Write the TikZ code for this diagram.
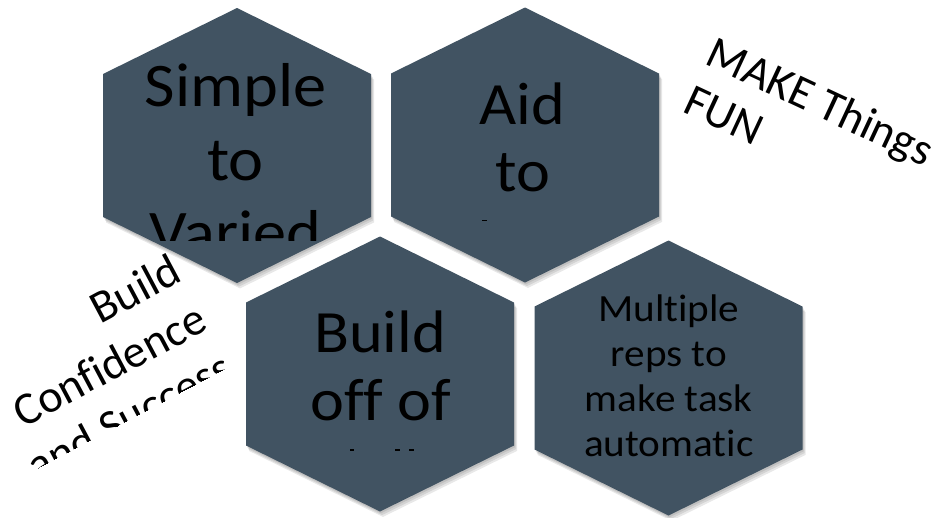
\documentclass[tikz,border=0pt]{standalone}
\usepackage{fontspec}
\setmainfont{Carlito}[Ligatures={NoCommon}]
\definecolor{hexcol}{RGB}{65,83,98}
\newcommand\HexDraw[3]{\fill[#3] (#1,#2-137.5) -- (#1+134,#2-71.5) -- (#1+134,#2+71.5) -- (#1,#2+137.5) -- (#1-134,#2+71.5) -- (#1-134,#2-71.5) -- cycle;}
\tikzset{
  hexfill/.style={fill=hexcol},
  hexshadow/.style={fill=black, opacity=0.09},
  lbl/.style={inner sep=0pt, anchor=base, text=black, xscale=1.07},
  bigfont/.style={font=\fontsize{62}{73}\selectfont},
  midfont/.style={font=\fontsize{60}{68}\selectfont},
  smallfont/.style={font=\fontsize{38.5}{45}\selectfont},
  rotfont/.style={inner sep=0pt, text=black, transform shape, font=\fontsize{46}{54}\selectfont},
  frag/.style={fill=black}
}
\begin{document}
\begin{tikzpicture}[x=1pt,y=-1pt]
\useasboundingbox (0,0) rectangle (942,517);
\fill[white] (0,0) rectangle (942,517);
% soft shadows
\foreach \cx/\cy in {237/145.5,525/145,380/374,668.5/378}{
  \foreach \d in {1,2,3}{\HexDraw{\cx+\d}{\cy+1.8*\d}{hexshadow}}
}
% hexagons
\HexDraw{237}{145.5}{hexfill}
\HexDraw{525}{145}{hexfill}
\HexDraw{380}{374}{hexfill}
\HexDraw{668.5}{378}{hexfill}
% hexagon 1 text
\begin{scope}
  \clip (100,40) rectangle (372,240);
  \node[lbl,bigfont] (h1a) at (235.5,106.7) {Simple};
  \node[lbl,bigfont] (h1b) at (235.5,180) {to};
  \node[lbl,bigfont] (h1c) at (235.5,253) {Varied};
\end{scope}
% hexagon 2 text
\begin{scope}
  \clip (392,40) rectangle (658,221);
  \node[lbl,midfont] (h2a) at (522.5,124.3) {Aid};
  \node[lbl,midfont] (h2b) at (522.5,191.7) {to};
\end{scope}
\fill[frag] (482,219.6) rectangle (487,221);
% hexagon 3 text
\begin{scope}
  \clip (247,270) rectangle (514,450.5);
  \node[lbl,midfont] (h3a) at (380,352.7) {Build};
  \node[lbl,midfont] (h3b) at (381,420) {off of};
\end{scope}
\fill[frag] (350,449) rectangle (354,450.6);
\fill[frag] (394.5,449) rectangle (399.5,450.6);
\fill[frag] (408.5,449) rectangle (413.5,450.6);
% hexagon 4 text
\node[lbl,smallfont] (h4a) at (668.8,321.7) {Multiple};
\node[lbl,smallfont] (h4b) at (668.8,366.7) {reps to};
\node[lbl,smallfont] (h4c) at (668.8,411.7) {make task};
\node[lbl,smallfont] (h4d) at (668.8,456.7) {automatic};
% rotated: Build Confidence and Success
\begin{scope}[shift={(210,329)}, rotate=28]
  \clip (-400,-150) rectangle (60,42);
  \node[rotfont, anchor=base east] (c1) at (0,-55) {Build};
  \node[rotfont, anchor=base east] (c2) at (0,0) {Confidence};
  \node[rotfont, anchor=base east] (c3) at (0,55) {and Success};
\end{scope}
% rotated: MAKE Things FUN
\begin{scope}[shift={(703.6,63.6)}, rotate=-25]
  \node[rotfont, anchor=base west] (m1) at (0,0) {MAKE Things};
  \node[rotfont, anchor=base west] (m2) at (0,53) {FUN};
\end{scope}
\end{tikzpicture}
\end{document}
